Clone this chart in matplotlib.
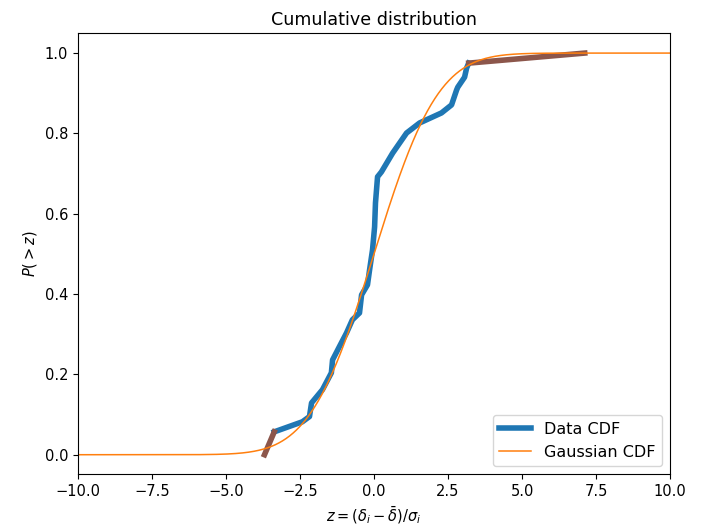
import numpy as np
import matplotlib
matplotlib.use('Agg')
import matplotlib.pyplot as plt
from math import erf, sqrt

# data CDF
z_data = [-3.37, -2.42, -2.18, -2.11, -1.74, -1.44, -1.40, -1.17, -0.93, -0.73,
          -0.49, -0.42, -0.22, -0.15, -0.05, 0.02, 0.05, 0.12, 0.25, 0.63,
          1.10, 1.54, 2.28, 2.62, 2.79, 2.83, 3.06, 3.13, 3.20]
p_data = [0.057, 0.082, 0.095, 0.129, 0.162, 0.204, 0.236, 0.269, 0.303, 0.336,
          0.353, 0.398, 0.423, 0.460, 0.510, 0.567, 0.627, 0.692, 0.704, 0.751,
          0.801, 0.826, 0.851, 0.871, 0.908, 0.915, 0.940, 0.963, 0.975]

# tail segments
z_low = [-3.70, -3.37]
p_low = [0.0, 0.057]
z_high = [3.20, 7.12]
p_high = [0.975, 1.0]

# gaussian parameters
mu = 0.0
sigma = 1.7

z_g = np.linspace(-10, 10, 1000)
p_g = [0.5 * (1 + erf((z - mu) / (sigma * sqrt(2)))) for z in z_g]

plt.rcParams['font.size'] = 10.5

fig = plt.figure(figsize=(7.12, 5.28), dpi=100)
ax = fig.add_axes([78/712, 1 - 474/528, (670 - 78)/712, (474 - 33)/528])

ax.plot(z_data, p_data, color='C0', linewidth=4, label='Data CDF')
ax.plot(z_low, p_low, color='C5', linewidth=4)
ax.plot(z_high, p_high, color='C5', linewidth=4)
ax.plot(z_g, p_g, color='C1', linewidth=1.1, label='Gaussian CDF')

ax.set_xlim(-10, 10)
ax.set_ylim(-0.048, 1.05)
ax.set_title('Cumulative distribution')
ax.set_xlabel(r'$z=(\delta_i-\bar{\delta})/\sigma_i$')
ax.set_ylabel(r'$P(>z)$')
ax.legend(loc='lower right', fontsize=11.5, handlelength=2.0)

plt.savefig('out.png')
